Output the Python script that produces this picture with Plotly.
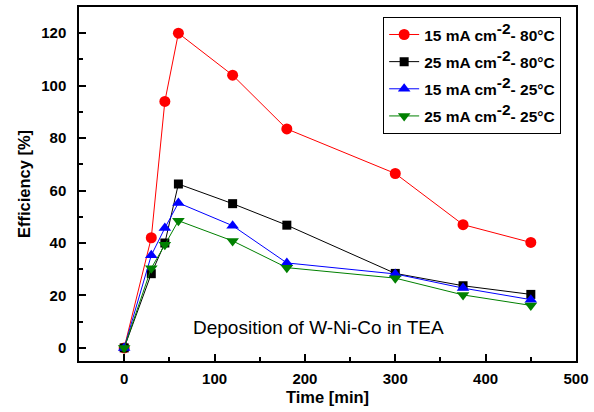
import plotly.graph_objects as go

time_min = [0, 30, 45, 60, 120, 180, 300, 375, 450]
eff_15_80 = [0, 42, 94, 120, 104, 83.5, 66.5, 47, 40.2]
eff_25_80 = [0, 28.3, 40, 62.5, 55, 46.8, 28.4, 23.7, 20.4]
eff_15_25 = [0, 35.3, 45.7, 55.3, 46.6, 32.4, 28.2, 22.8, 18.4]
eff_25_25 = [0, 30.4, 39.3, 48.5, 40.8, 30.6, 26.6, 20.2, 16.2]

SUP = '<sup><span style="font-size:15.5px">-2</span></sup>'
names = ["15 mA cm" + SUP + "- 80°C", "25 mA cm" + SUP + "- 80°C",
         "15 mA cm" + SUP + "- 25°C", "25 mA cm" + SUP + "- 25°C"]
series = [eff_15_80, eff_25_80, eff_15_25, eff_25_25]
colors = ["#ff0000", "#000000", "#0000ff", "#008000"]
symbols = ["circle", "square", "triangle-up", "triangle-down"]
sizes = [11, 9, 11, 11]

fig = go.Figure()
for i, (n, s, c, m, sz) in enumerate(zip(names, series, colors, symbols, sizes)):
    fig.add_trace(go.Scatter(x=time_min, y=s, name=n, mode="lines+markers",
                             legendgroup="g%d" % i,
                             line=dict(color=c, width=1),
                             marker=dict(symbol=m, size=sz, color=c)))

font_family = "Liberation Sans, Arial, sans-serif"
axis_common = dict(showline=True, linecolor="#000000", linewidth=1.5, mirror=True,
                   ticks="inside", tickcolor="#000000", tickwidth=1.5, ticklen=7,
                   showgrid=False, zeroline=False,
                   tickfont=dict(family=font_family, size=15, color="#000000", weight="bold"),
                   minor=dict(ticks="inside", ticklen=4, tickwidth=1.5, tickcolor="#000000", showgrid=False))

fig.update_xaxes(range=[-50, 500], tickvals=[0, 100, 200, 300, 400, 500],
                 ticklabelstandoff=3,
                 title=dict(text="Time [min]", font=dict(family=font_family, size=16.5, color="#000000", weight="bold"), standoff=6),
                 **axis_common)
fig.update_xaxes(minor_dtick=50)
fig.update_yaxes(range=[-5, 130], tickvals=[0, 20, 40, 60, 80, 100, 120],
                 ticklabelstandoff=8,
                 title=dict(text="Efficiency [%]", font=dict(family=font_family, size=16.5, color="#000000", weight="bold"), standoff=6),
                 **axis_common)
fig.update_yaxes(minor_dtick=10)

fig.add_annotation(x=215, y=7.6, xref="x", yref="y", text="Deposition of W-Ni-Co in TEA",
                   showarrow=False, font=dict(family=font_family, size=19, color="#000000"))

fig.update_layout(
    width=594, height=412,
    margin=dict(l=79, r=15, t=5, b=51),
    paper_bgcolor="white", plot_bgcolor="white",
    font=dict(family=font_family, color="#000000"),
    legend=dict(x=0.612, y=0.972, xanchor="left", yanchor="top",
                bordercolor="#000000", borderwidth=1, bgcolor="white",
                font=dict(family=font_family, size=15.5, color="#000000", weight="bold"),
                tracegroupgap=4),
    showlegend=True,
)

fig.write_html("out.html")
